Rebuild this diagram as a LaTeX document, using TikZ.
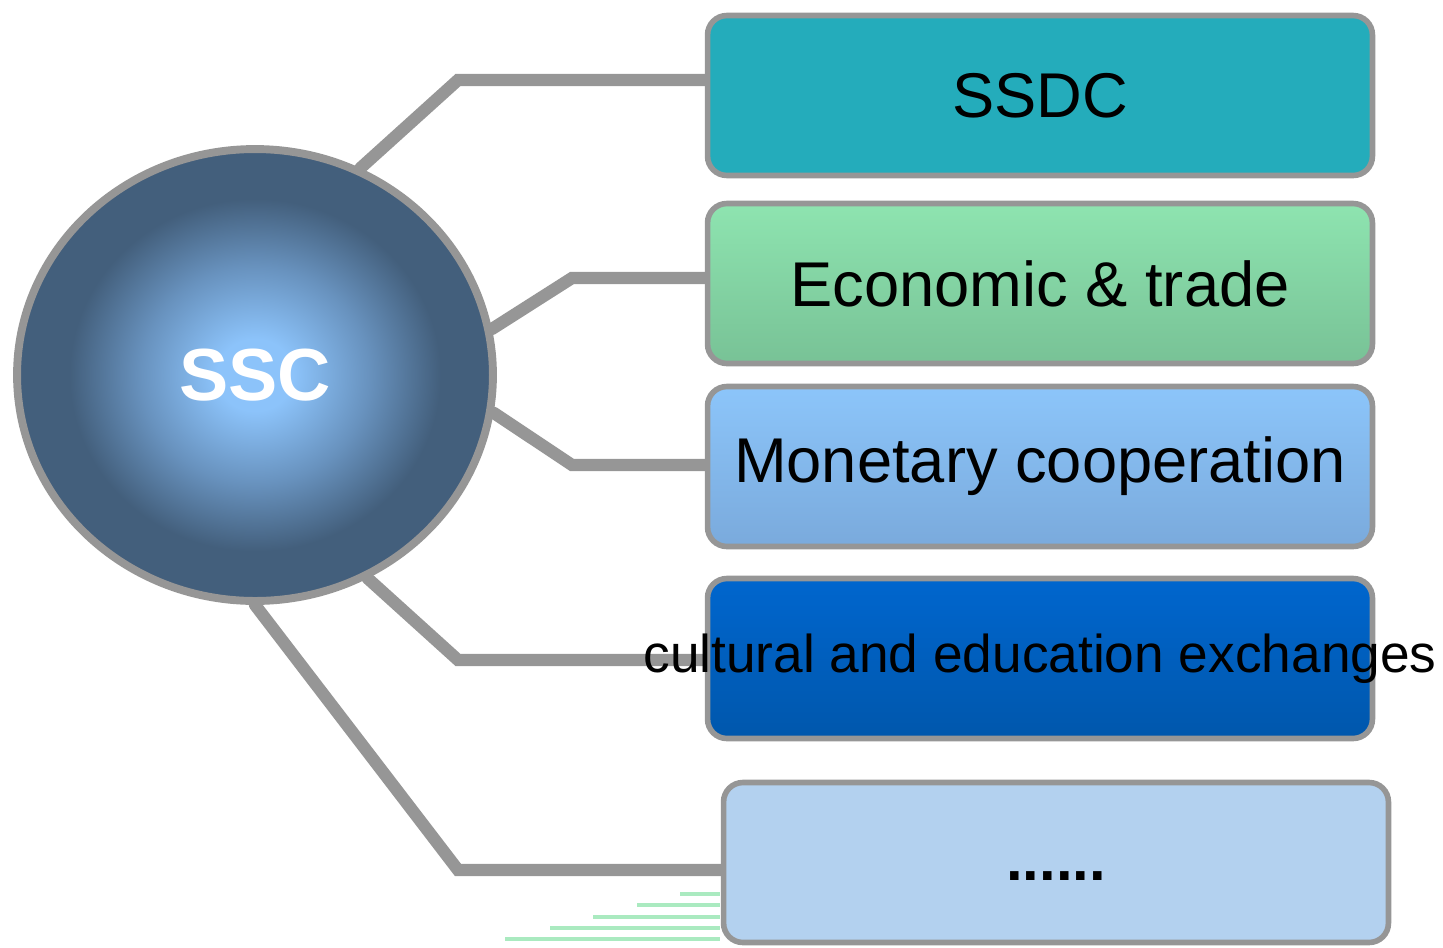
\documentclass[tikz,border=0pt]{standalone}
\usepackage{fontspec}
\setmainfont{Liberation Sans}
\usetikzlibrary{shapes.geometric,backgrounds}

\definecolor{linegray}{RGB}{150,150,150}
\definecolor{ballin}{RGB}{140,195,250}
\definecolor{ballmid}{RGB}{104,146,190}
\definecolor{ballout}{RGB}{67,95,124}
\definecolor{ssdccol}{RGB}{36,172,187}
\definecolor{econtop}{RGB}{142,228,176}
\definecolor{econbot}{RGB}{120,194,150}
\definecolor{montop}{RGB}{140,197,250}
\definecolor{monbot}{RGB}{122,170,220}
\definecolor{culttop}{RGB}{0,102,206}
\definecolor{cultbot}{RGB}{0,87,172}
\definecolor{morecol}{RGB}{179,209,239}
\definecolor{stripecol}{RGB}{170,234,192}

\pgfdeclareradialshading{sscball}{\pgfpoint{0bp}{0bp}}{%
  color(0bp)=(ballin); color(4bp)=(ballin); color(12bp)=(ballmid);
  color(19.5bp)=(ballout); color(25bp)=(ballout); color(50bp)=(ballout)}

\def\boxfont{\fontsize{36}{40}\selectfont}

\begin{document}
\begin{tikzpicture}[x=0.02cm, y=-0.02cm,
  topicbox/.style={draw=linegray, line width=3.2pt, rounded corners=11pt,
    minimum width=13.3cm, minimum height=3.2cm, inner sep=0pt, font=\boxfont},
  link/.style={draw=linegray, line width=7pt, line cap=round}]
  \useasboundingbox (0,0) rectangle (1443,947);

  \node[ellipse, draw=linegray, line width=4.5pt, shading=sscball,
    minimum width=9.52cm, minimum height=9.04cm, inner sep=0pt, text=white,
    font=\fontsize{42}{46}\selectfont\bfseries] (ssc) at (255,375) {SSC};

  \node[topicbox, fill=ssdccol] (ssdc) at (1040,95.5) {SSDC};
  \node[topicbox, top color=econtop, bottom color=econbot] (econ) at (1040,283.5) {Economic \& trade};
  \node[topicbox, top color=montop, bottom color=monbot] (money) at (1040,466.5) {Monetary cooperation};
  \node[topicbox, top color=culttop, bottom color=cultbot] (culture) at (1040,658.5)
    {\makebox[0pt]{\fontsize{30.3}{34}\selectfont cultural and education exchanges}};
  \node[topicbox, fill=morecol] (more) at (1056,862.5)
    {\smash{\raisebox{-0.36cm}{\fontsize{34}{38}\selectfont\bfseries ......}}};

  \begin{scope}[on background layer]
    \coordinate (k1) at (458,80);
    \coordinate (k2) at (572,278);
    \coordinate (k3) at (572,465);
    \coordinate (k4) at (458,660);
    \coordinate (k5) at (458,870);
    \draw[link] (ssc.63) -- (k1) -- (k1 -| ssdc.west);
    \draw[link] (ssc.11) -- (k2) -- (k2 -| econ.west);
    \draw[link] (ssc.-9) -- (k3) -- (k3 -| money.west);
    \draw[link] (ssc.-61) -- (k4) -- (k4 -| culture.west);
    \draw[link] (ssc.south) -- (k5) -- (k5 -| more.west);
    %% faint stripes under the last link
    \foreach \ya/\xa in {894/680, 905/637, 917/593, 928/550, 939/505}
      \draw[stripecol, line width=2pt] (\xa,\ya) -- (720,\ya);
  \end{scope}
\end{tikzpicture}
\end{document}
